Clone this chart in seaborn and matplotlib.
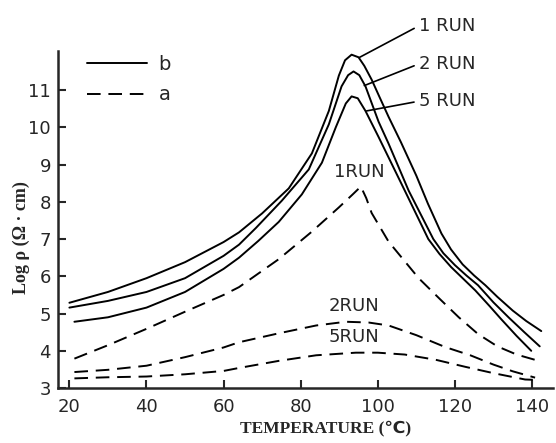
import matplotlib
matplotlib.use("Agg")
import matplotlib.pyplot as plt
import seaborn as sns

# temperature (C) / log resistivity
# sample b, solid curves
b1_temp = [20, 30, 40, 50, 60, 64, 70, 76.9, 82.9, 87.3, 89.9, 91.5, 93.2, 95, 96.5, 98.4, 100.5, 102.8, 106, 110, 113,
           116.5, 119, 122, 125, 127.9, 131, 135, 138.5, 142.4]
b1_logr = [5.29, 5.58, 5.95, 6.38, 6.92, 7.18, 7.69, 8.36, 9.3, 10.44, 11.39, 11.8, 11.95, 11.88, 11.65, 11.28, 10.8, 10.28, 9.6, 8.7, 7.95,
           7.15, 6.72, 6.32, 6.02, 5.76, 5.45, 5.08, 4.8, 4.53]

b2_temp = [20, 30, 40, 50, 60, 64, 68.4, 75.1, 82.1, 87.3, 90.6, 92.3, 93.7, 95.2, 96.8, 100.2, 102.8, 108, 114.4, 117, 120, 123,
           126, 130, 134, 138, 142]
b2_logr = [5.16, 5.34, 5.58, 5.95, 6.55, 6.85, 7.3, 8.03, 8.87, 10.08, 11.1, 11.4, 11.5, 11.4, 11.1, 10.15, 9.56, 8.3, 7.0, 6.62, 6.3, 6.02,
           5.76, 5.3, 4.89, 4.5, 4.12]

b5_temp = [21.3, 30, 40, 50, 60, 64, 69, 74.3, 80.3, 85.5, 89.1, 91.7, 93.2, 94.8, 96.8, 100.2, 107, 113.1, 116, 119, 122, 125.3,
           129, 132, 136, 139.8]
b5_logr = [4.78, 4.9, 5.16, 5.58, 6.2, 6.5, 6.95, 7.46, 8.2, 9.05, 10.0, 10.64, 10.83, 10.78, 10.44, 9.74, 8.3, 7.0, 6.6, 6.25, 5.95, 5.62,
           5.2, 4.85, 4.4, 4.0]

# sample a, dashed curves
a1_temp = [21.3, 30, 40, 50, 60, 64, 74.3, 82.9, 89.9, 93.5, 95.6, 97, 98.4, 102.8, 110.6, 116, 121, 126, 131, 136, 142.4]
a1_logr = [3.79, 4.15, 4.59, 5.05, 5.5, 5.71, 6.46, 7.2, 7.85, 8.2, 8.41, 8.1, 7.7, 6.93, 5.95, 5.4, 4.9, 4.45, 4.12, 3.9, 3.71]

a2_temp = [21.3, 30, 40, 50, 60, 64, 74.3, 84, 91.7, 97.6, 102.8, 110, 117.5, 124, 130, 135, 140.8]
a2_logr = [3.43, 3.49, 3.6, 3.83, 4.09, 4.23, 4.47, 4.68, 4.78, 4.76, 4.68, 4.42, 4.1, 3.88, 3.63, 3.45, 3.28]

a5_temp = [21.3, 30, 40, 50, 60, 64, 74.3, 84, 94.3, 100, 107, 115, 122.7, 130, 138.2, 140.8]
a5_logr = [3.26, 3.29, 3.31, 3.37, 3.46, 3.54, 3.73, 3.88, 3.95, 3.95, 3.9, 3.76, 3.57, 3.4, 3.23, 3.22]

x_ticks = [20, 40, 60, 80, 100, 120, 140]
y_ticks = [3, 4, 5, 6, 7, 8, 9, 10, 11]

sns.set_style("ticks")
plt.rcParams["font.family"] = ["DejaVu Sans"]

fig = plt.figure(figsize=(5.56, 4.43), dpi=100)
ax = fig.add_axes([0.104, 0.124, 0.891, 0.761])

lw = 1.4
dash = (7, 4)
sns.lineplot(x=b1_temp, y=b1_logr, ax=ax, color="black", lw=lw, label="b")
sns.lineplot(x=b2_temp, y=b2_logr, ax=ax, color="black", lw=lw)
sns.lineplot(x=b5_temp, y=b5_logr, ax=ax, color="black", lw=lw)
sns.lineplot(x=a1_temp, y=a1_logr, ax=ax, color="black", lw=lw, label="a").lines[-1].set_dashes(dash)
sns.lineplot(x=a2_temp, y=a2_logr, ax=ax, color="black", lw=lw).lines[-1].set_dashes(dash)
sns.lineplot(x=a5_temp, y=a5_logr, ax=ax, color="black", lw=lw).lines[-1].set_dashes(dash)

ax.set_xlim(17, 145.5)
ax.set_ylim(3, 12.05)
ax.set_xticks(x_ticks)
ax.set_yticks(y_ticks)
ax.tick_params(direction="in", length=6, width=1.5, labelsize=13)
ax.tick_params(axis="x", pad=7)
ax.tick_params(axis="y", pad=5)
sns.despine(ax=ax)
for s in ["left", "bottom"]:
    ax.spines[s].set_linewidth(1.8)

ax.set_xlabel("TEMPERATURE (℃)", family=["Liberation Serif", "DejaVu Sans"],
              fontsize=12.5, fontweight="bold")
ax.xaxis.set_label_coords(0.54, -0.096)
ax.set_ylabel("Log ρ (Ω · cm)", family=["Liberation Serif", "DejaVu Serif"],
              fontsize=13, fontweight="bold")
ax.yaxis.set_label_coords(-0.056, 0.445)

# run labels with leader lines (sample b)
run_kw = dict(fontsize=13, ha="left", va="center", annotation_clip=False,
              arrowprops=dict(arrowstyle="-", lw=1.2, color="black", shrinkA=1, shrinkB=0, relpos=(0, 0.5)))
ax.annotate("1 RUN", xy=(95.3, 11.88), xytext=(110.6, 12.72), **run_kw)
ax.annotate("2 RUN", xy=(96.5, 11.12), xytext=(110.6, 11.7), **run_kw)
ax.annotate("5 RUN", xy=(97.1, 10.44), xytext=(110.6, 10.7), **run_kw)

# run labels for sample a
ax.text(95.3, 8.79, "1RUN", fontsize=13, ha="center", va="center")
ax.text(93.7, 5.2, "2RUN", fontsize=13, ha="center", va="center")
ax.text(93.7, 4.38, "5RUN", fontsize=13, ha="center", va="center")

ax.legend(loc="upper left", bbox_to_anchor=(0.058, 0.989), frameon=False,
          fontsize=14, handlelength=3.1, handletextpad=0.6, labelspacing=0.6,
          borderpad=0, borderaxespad=0)

fig.savefig("out.png", dpi=100)
